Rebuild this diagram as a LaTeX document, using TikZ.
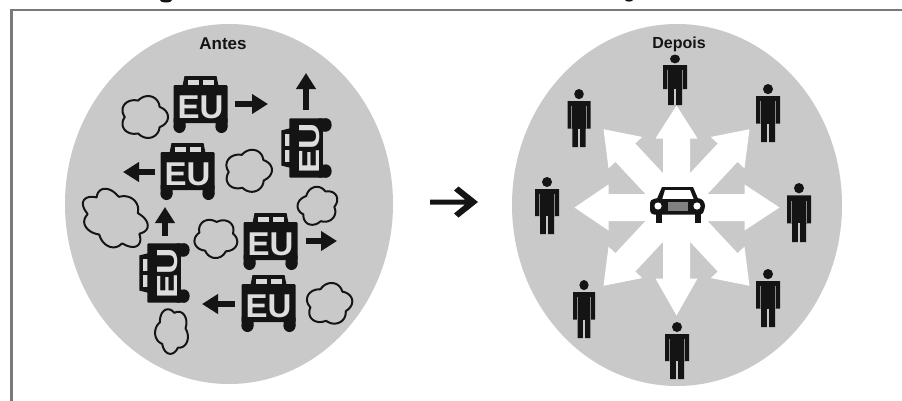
\documentclass[tikz,border=0pt]{standalone}
\usepackage{fontspec}
\setmainfont{Liberation Sans}
\usetikzlibrary{arrows.meta}
\definecolor{disc}{HTML}{C9C9C9}
\definecolor{ink}{HTML}{141414}
\definecolor{lettergrey}{HTML}{DDDDDD}
\definecolor{framegrey}{HTML}{7A7A7A}
\definecolor{seam}{HTML}{8A8A8A}
\tikzset{
  discshape/.style={fill=disc,draw=none},
  framestroke/.style={draw=framegrey,line width=2.4pt},
  blackarrow/.style={draw=ink,line width=6pt,-{Triangle[length=16pt,width=19pt]}},
  cloudline/.style={draw=ink,line width=2pt,line join=round,fill=none},
  titletext/.style={text=ink,inner sep=0pt},
  eutext/.style={text=lettergrey,font=\fontsize{33}{33}\selectfont\bfseries,inner sep=0pt,transform shape},
  whitearrow/.style={fill=white,draw=none}
}
% car with EU on it: body centred at the origin
\newcommand\eucar[2]{%
  \begin{scope}[#1]
    \fill[ink] (-18,-19) -- (-16,-29) -- (16,-29) -- (18,-19) -- cycle;
    \fill[disc!70!white] (-13,-25) rectangle (-2,-19);
    \fill[disc!70!white] (2,-25) rectangle (13,-19);
    \fill[ink,rounded corners=1pt] (-27,-20) rectangle (27,18);
    \fill[ink,rounded corners=2pt] (-27,12) rectangle (-15,24);
    \fill[ink,rounded corners=2pt] (15,12) rectangle (27,24);
    \fill[ink] (-21,22) circle[radius=6pt];
    \fill[ink] (21,22) circle[radius=6pt];
    \node[eutext] (#2) at (0,2.5) {EU};
  \end{scope}}
% cloud outline: centre x, centre y, rx, ry, tilt, lobes/2, phase
\newcommand\cloudshape[7]{%
  \draw[cloudline,shift={(#1,#2)},rotate=#5]
    plot[domain=0:360,samples=145,smooth cycle]
    ({#3*(0.80+0.20*abs(sin(#6*\x+#7)))*cos(\x)},
     {#4*(0.80+0.20*abs(sin(#6*\x+#7)))*sin(\x)});}
% person: x, top y, height, width
\newcommand\personfig[4]{%
  \begin{scope}[shift={(#1,#2)},xscale=#4/24,yscale=#3/57]
    \fill[ink] (0,5) circle[radius=5pt];
    \fill[ink] (-12,12) -- (12,12) -- (12,39) -- (7,39) -- (7,57) -- (-7,57) -- (-7,39) -- (-12,39) -- cycle;
    \draw[seam,line width=1pt] (-7.6,17) -- (-7.6,39);
    \draw[seam,line width=1pt] (7.6,17) -- (7.6,39);
    \draw[disc,line width=1.8pt] (0,39) -- (0,57.5);
  \end{scope}}
% white arrow out of the hub: angle, length, head base, head half width
\newcommand\spoke[4]{%
  \begin{scope}[shift={(hub)},rotate=#1]
    \fill[whitearrow] (0,-13.5) -- (#3,-13.5) -- (#3,-#4) -- (#2,0) -- (#3,#4) -- (#3,13.5) -- (0,13.5) -- cycle;
  \end{scope}}
\begin{document}
\begin{tikzpicture}[x=1pt,y=-1pt]
  \useasboundingbox (0,0) rectangle (902,400);
  \clip (0,0) rectangle (902,400);
  \fill[white] (0,0) rectangle (902,400);
  % cut-off text at the very top
  \fill[ink] (166,0) ellipse[x radius=6pt,y radius=2.5pt];
  \fill[ink] (629,0) ellipse[x radius=4pt,y radius=1.6pt];
  % frame
  \draw[framestroke] (11.5,401) -- (11.5,9.8) -- (903,9.8);
  % discs
  \fill[discshape] (229,204) ellipse[x radius=164pt,y radius=180pt];
  \fill[discshape] (677,205) ellipse[x radius=165pt,y radius=181pt];
  \node[titletext,font=\fontsize{17}{17}\selectfont\bfseries] (antes) at (223,44) {Antes};
  \node[titletext,font=\fontsize{16}{16}\selectfont\bfseries] (depois) at (679,44) {Depois};
  % left: cars
  \eucar{shift={(200.5,105)}}{car1}
  \eucar{shift={(187.5,172)}}{car2}
  \eucar{shift={(270.5,242)}}{car3}
  \eucar{shift={(268.5,304)}}{car4}
  \eucar{shift={(307,148)},rotate=90,xscale=1.1,yscale=.88}{car5}
  \eucar{shift={(165,273)},rotate=90,xscale=1.1,yscale=.88}{car6}
  % left: clouds
  \cloudshape{144}{117}{24}{21.5}{0}{2.5}{90}
  \cloudshape{248}{171}{24}{21.5}{10}{2.5}{70}
  \cloudshape{114.5}{219}{36}{27}{-35}{3.5}{20}
  \cloudshape{216}{238}{22}{20}{0}{2.5}{40}
  \cloudshape{318}{206}{21}{19}{30}{2.5}{90}
  \cloudshape{329}{304}{23.5}{21}{10}{2.5}{90}
  \cloudshape{172}{331}{17}{23}{0}{2.5}{20}
  % left: arrows
  \coordinate (a1s) at (235,104); \coordinate (a1e) at (268,104);
  \coordinate (a2s) at (306,110); \coordinate (a2e) at (306,73);
  \coordinate (a3s) at (155,172); \coordinate (a3e) at (123,172);
  \coordinate (a4s) at (165,236); \coordinate (a4e) at (165,207);
  \coordinate (a5s) at (306,241); \coordinate (a5e) at (337,241);
  \coordinate (a6s) at (235,304); \coordinate (a6e) at (202,304);
  \draw[blackarrow] (a1s) -- (a1e);
  \draw[blackarrow] (a2s) -- (a2e);
  \draw[blackarrow] (a3s) -- (a3e);
  \draw[blackarrow] (a4s) -- (a4e);
  \draw[blackarrow] (a5s) -- (a5e);
  \draw[blackarrow] (a6s) -- (a6e);
  % middle arrow
  \fill[ink] (430,199.5) -- (465,199.5) -- (454,190.5) -- (458.5,186.5) -- (478,202)
     -- (458.5,217.5) -- (454,213.5) -- (465,204.5) -- (430,204.5) -- cycle;
  % right: white spokes
  \coordinate (hub) at (676.5,207.5);
  \spoke{90}{102}{69}{21}
  \spoke{-90}{108}{71}{21}
  \spoke{0}{103}{68}{23}
  \spoke{180}{102}{68}{23}
  \spoke{47}{107}{75}{23}
  \spoke{133}{107}{75}{23}
  \spoke{-47}{107}{75}{23}
  \spoke{-133}{107}{75}{23}
  % right: car
  \fill[ink] (656,201) -- (662,187) -- (693,187) -- (699,201) -- cycle;
  \fill[white] (662,200) -- (665,190) -- (690,190) -- (694,200) -- cycle;
  \fill[ink,rounded corners=4pt] (650,199) rectangle (704,214.5);
  \fill[ink] (655.5,212) rectangle (661.5,223);
  \fill[ink] (694.5,212) rectangle (700.5,223);
  \fill[ink] (658,206) circle[radius=8pt];
  \fill[ink] (697,206) circle[radius=8pt];
  \fill[white] (658,206) circle[radius=3.6pt];
  \fill[white] (697,206) circle[radius=3.6pt];
  \fill[gray] (668,202) rectangle (688,211);
  % right: people
  \personfig{675}{54.5}{50.5}{24}
  \personfig{768}{84}{58}{24}
  \personfig{579}{89}{58}{23}
  \personfig{547}{177}{57}{24}
  \personfig{799}{183}{59}{24}
  \personfig{584}{280}{58}{22}
  \personfig{768}{269}{58}{24}
  \personfig{677}{322}{57}{24}
\end{tikzpicture}
\end{document}
